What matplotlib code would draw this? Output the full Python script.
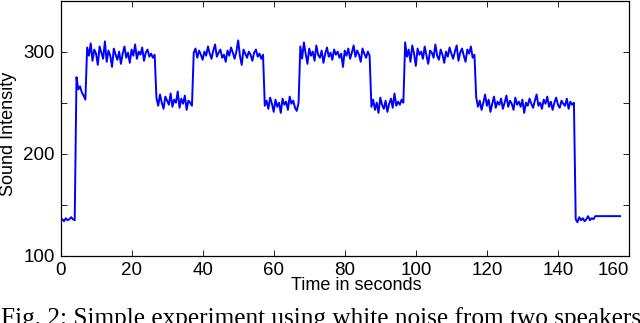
import numpy as np
import matplotlib
matplotlib.use('Agg')
import matplotlib.pyplot as plt

# sampled sound intensity, one sample every 0.5 s, split by speaker state
dt = 0.5
silence_start = [135, 136, 134, 137, 135, 136, 138, 136, 135]
speaker_onset = [275, 263, 266, 260, 257, 253]
both_on_1 = [304, 296, 308, 291, 302, 298, 287, 305, 299, 293, 310, 290, 301,
             296, 285, 303, 297, 292, 300, 288, 298, 305, 294, 299, 289, 302,
             296, 307, 293, 300, 297, 304, 291, 299, 302, 295, 298, 294, 297]
one_on_1 = [255, 247, 258, 250, 244, 256, 252, 248, 259, 246, 253, 250, 261,
            245, 254, 249, 257, 243, 252, 250, 247]
both_on_2 = [299, 303, 294, 301, 297, 292, 300, 296, 305, 298, 293, 301, 307,
             295, 299, 302, 294, 297, 290, 301, 296, 304, 299, 293, 300, 311,
             296, 287, 302, 298, 294, 300, 297, 291, 299, 302, 295, 298, 293, 297]
one_on_2 = [247, 252, 244, 255, 249, 241, 253, 246, 250, 240, 254, 248, 251,
            243, 256, 249, 252, 245, 242, 250]
both_on_3 = [305, 293, 309, 298, 288, 303, 296, 300, 291, 306, 297, 294, 301,
             289, 298, 304, 295, 299, 292, 302, 297, 300, 294, 298, 285, 301,
             296, 303, 293, 299, 306, 295, 301, 297, 290, 303, 298, 294, 300, 296]
one_on_3 = [246, 253, 243, 250, 240, 255, 248, 244, 252, 241, 249, 254, 245,
            259, 247, 251, 248, 253, 250]
both_on_4 = [309, 295, 302, 290, 306, 298, 286, 303, 297, 300, 293, 305, 296,
             288, 301, 299, 294, 307, 296, 292, 302, 297, 289, 300, 295, 304,
             298, 293, 300, 306, 291, 299, 303, 296, 290, 302, 298, 305, 294, 297]
one_on_4 = [255, 246, 252, 243, 250, 258, 247, 253, 241, 249, 256, 245, 251,
            248, 254, 244, 250, 257, 246, 252, 249, 243, 255, 248, 251, 246,
            253, 240, 250, 247, 254, 249, 245, 252, 258, 247, 250, 244, 253,
            249, 256, 246, 251, 243, 250, 255, 248, 245, 252, 249, 247, 254,
            244, 251, 248, 250]
silence_end = [136, 133, 138, 135, 137, 134, 136, 139, 135, 137, 136, 139]
hold_time = 157.5
hold_value = 139

intensity = (silence_start + speaker_onset + both_on_1 + one_on_1 + both_on_2
             + one_on_2 + both_on_3 + one_on_3 + both_on_4 + one_on_4 + silence_end)
t = list(np.arange(len(intensity)) * dt) + [hold_time]
intensity = intensity + [hold_value]

plt.rcParams['font.family'] = ['Liberation Sans', 'DejaVu Sans']

fig = plt.figure(figsize=(6.4, 3.23), dpi=100)
ax = fig.add_axes([60.5 / 640, 67 / 323, 568.5 / 640, 255.5 / 323])

ax.plot(t, intensity, color='#0000ff', lw=1.4)

ax.set_xlim(0, 160)
ax.set_ylim(100, 350)
ax.set_xticks(range(0, 161, 20))
ax.set_yticks(range(100, 351, 50))
ax.set_yticklabels(['100', '', '200', '', '300', ''])
ax.tick_params(direction='in', top=True, right=True, length=4, width=0.6,
               labelsize=13.5, pad=4)
for s in ax.spines.values():
    s.set_linewidth(0.9)
# last tick label sits slightly left so it stays inside the figure
ax.get_xticklabels()[-1].set_horizontalalignment('right')
ax.get_xticklabels()[-1].set_x(160)

fig.text(356 / 640, 1 - 285 / 323, 'Time in seconds', ha='center', va='center',
         fontsize=13)
fig.text(8.5 / 640, 1 - 134 / 323, 'Sound Intensity', ha='center', va='center',
         rotation=90, fontsize=13)
fig.text(1 / 640, -1.5 / 323, 'Fig. 2: Simple experiment using white noise from two speakers',
         ha='left', va='baseline', fontsize=18.2, family='Liberation Serif')

fig.savefig('out.png', dpi=100)
